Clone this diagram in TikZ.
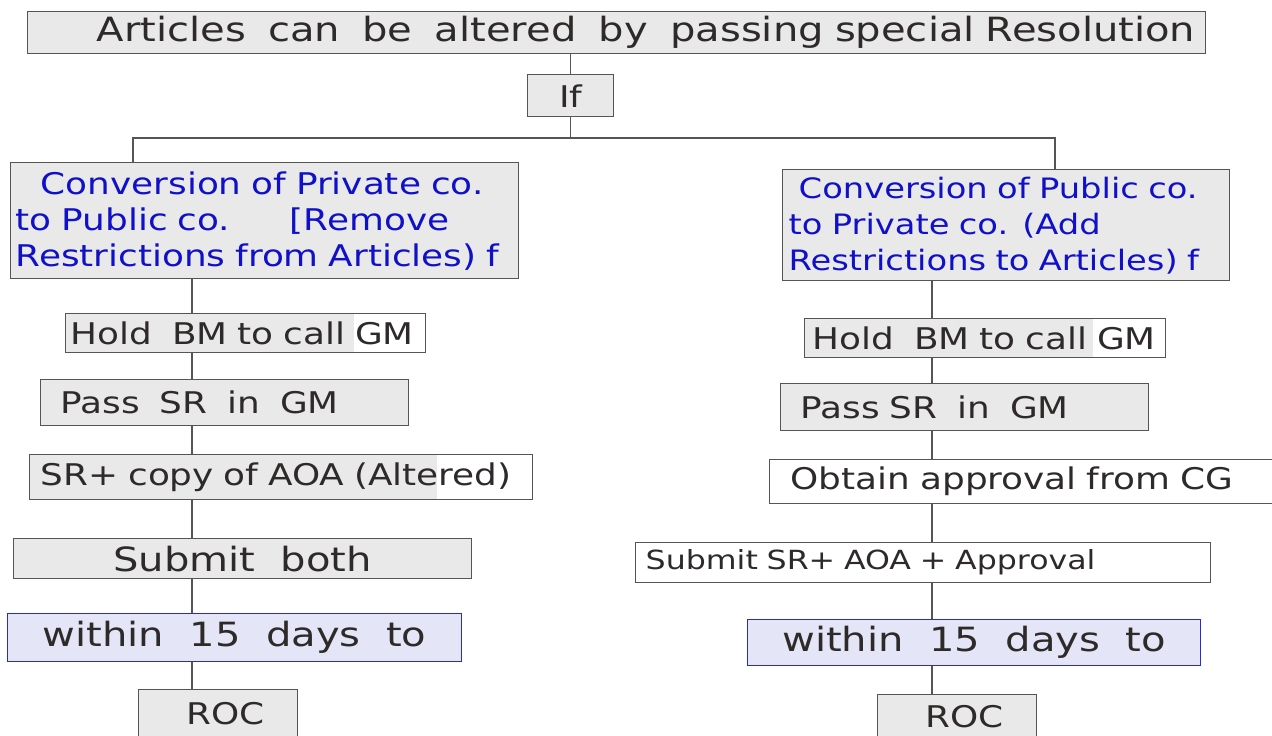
\documentclass[tikz,border=0pt]{standalone}
\usepackage{fontspec}
\setmainfont{DejaVu Sans}[FakeStretch=1.2]
\usepackage{xcolor}
\usetikzlibrary{positioning, calc}

\definecolor{boxgray}{HTML}{E9E9E9}
\definecolor{linegray}{HTML}{555555}
\definecolor{inkblack}{HTML}{2E2A2A}
\definecolor{inkblue}{HTML}{1010C8}
\definecolor{lavender}{HTML}{E4E6F8}
\definecolor{edgeblue}{HTML}{2B2BD6}

\begin{document}
\begin{tikzpicture}[
		x=0.02cm, y=-0.02cm,
		box/.style={rectangle, draw=linegray, fill=boxgray, line width=0.8pt, anchor=north west, inner sep=0pt, align=left, text=inkblack, font=\fontsize{17}{20.5}\selectfont},
		whitebox/.style={box, fill=white},
		partfill/.style={box, fill=white, path picture={\fill[boxgray] (path picture bounding box.south west) rectangle ($(path picture bounding box.north west)!#1!(path picture bounding box.north east)$);}},
		daybox/.style={box, fill=lavender, draw=edgeblue, align=center, font=\fontsize{19}{22}\selectfont},
		convbox/.style={box, text=inkblue},
		link/.style={draw=linegray, line width=0.6pt}
		]

		\useasboundingbox (0,0) rectangle (1272,735);

		% top of the tree
		\node[box, minimum width=23.56cm, minimum height=0.84cm, text width=23.2cm, font=\fontsize{19}{22}\selectfont] (alter) at (27,11) {\hspace*{1.2cm}Articles\ \ can\ \ be\ \ altered\ \ by\ \ passing special Resolution};
		\node[box, align=center, minimum width=1.72cm, minimum height=0.84cm] (iff) at (527,74) {If};

		% the two conversions
		\node[convbox, minimum width=10.16cm, minimum height=2.32cm, text width=9.96cm] (convL) at (10,162) {\hspace*{0.5cm}Conversion of Private co.\\to Public co.\ \ \ \ \ \ [Remove\\Restrictions from Articles) f};
		\node[convbox, minimum width=8.94cm, minimum height=2.22cm, text width=8.7cm, font=\fontsize{16}{20.5}\selectfont] (convR) at (782,169) {\hspace*{0.2cm}Conversion of Public co.\\to Private co. (Add\\Restrictions to Articles) f};

		% left column
		\node[partfill=0.8, minimum width=7.2cm, minimum height=0.78cm, text width=7cm] (holdL) at (65,313) {Hold\ \ BM to call GM};
		\node[box, minimum width=7.36cm, minimum height=0.92cm, text width=6.56cm] (passL) at (40,379) {Pass\ \ SR\ \ in\ \ GM};
		\node[partfill=0.81, minimum width=10.06cm, minimum height=0.9cm, text width=9.62cm] (copyL) at (29,454) {SR+ copy of AOA (Altered)};
		\node[box, align=center, minimum width=9.16cm, minimum height=0.8cm, font=\fontsize{19}{22}\selectfont] (subL) at (13,538) {Submit\ \ both};
		\node[daybox, minimum width=9.08cm, minimum height=0.96cm] (daysL) at (7,613) {within\ \ 15\ \ days\ \ to};
		\node[box, align=center, minimum width=3.18cm, minimum height=0.96cm] (rocL) at (138,689) {\hspace*{0.3cm}ROC};

		% right column
		\node[partfill=0.8, minimum width=7.22cm, minimum height=0.78cm, text width=6.9cm] (holdR) at (804,318) {Hold\ \ BM to call GM};
		\node[box, minimum width=7.36cm, minimum height=0.94cm, text width=6.56cm] (passR) at (780,383) {Pass SR\ \ in\ \ GM};
		\node[whitebox, minimum width=10.3cm, minimum height=0.88cm, text width=9.46cm] (apprR) at (769,459) {Obtain approval from CG};
		\node[whitebox, minimum width=11.5cm, minimum height=0.8cm, text width=11.1cm, font=\fontsize{15}{18}\selectfont] (subR) at (635,542) {Submit SR+ AOA + Approval};
		\node[daybox, minimum width=9.06cm, minimum height=0.92cm] (daysR) at (747,619) {within\ \ 15\ \ days\ \ to};
		\node[box, align=center, minimum width=3.18cm, minimum height=0.86cm] (rocR) at (877,694) {\hspace*{0.3cm}ROC};

		% connectors
		\coordinate (barL) at (133,138);
		\coordinate (barR) at (1055,138);
		\coordinate (colL) at (192,0);
		\coordinate (colR) at (932,0);

		\draw[link] (iff.north |- alter.south) -- (iff.north);
		\draw[link] (iff.south) -- (iff.south |- barL);
		\draw[link] (barL |- convL.north) -- (barL) -- (barR) -- (barR |- convR.north);

		\foreach \a/\b in {convL/holdL, holdL/passL, passL/copyL, copyL/subL, subL/daysL, daysL/rocL}
			\draw[link] (\a.south -| colL) -- (\b.north -| colL);
		\foreach \a/\b in {convR/holdR, holdR/passR, passR/apprR, apprR/subR, subR/daysR, daysR/rocR}
			\draw[link] (\a.south -| colR) -- (\b.north -| colR);
	\end{tikzpicture}
\end{document}
